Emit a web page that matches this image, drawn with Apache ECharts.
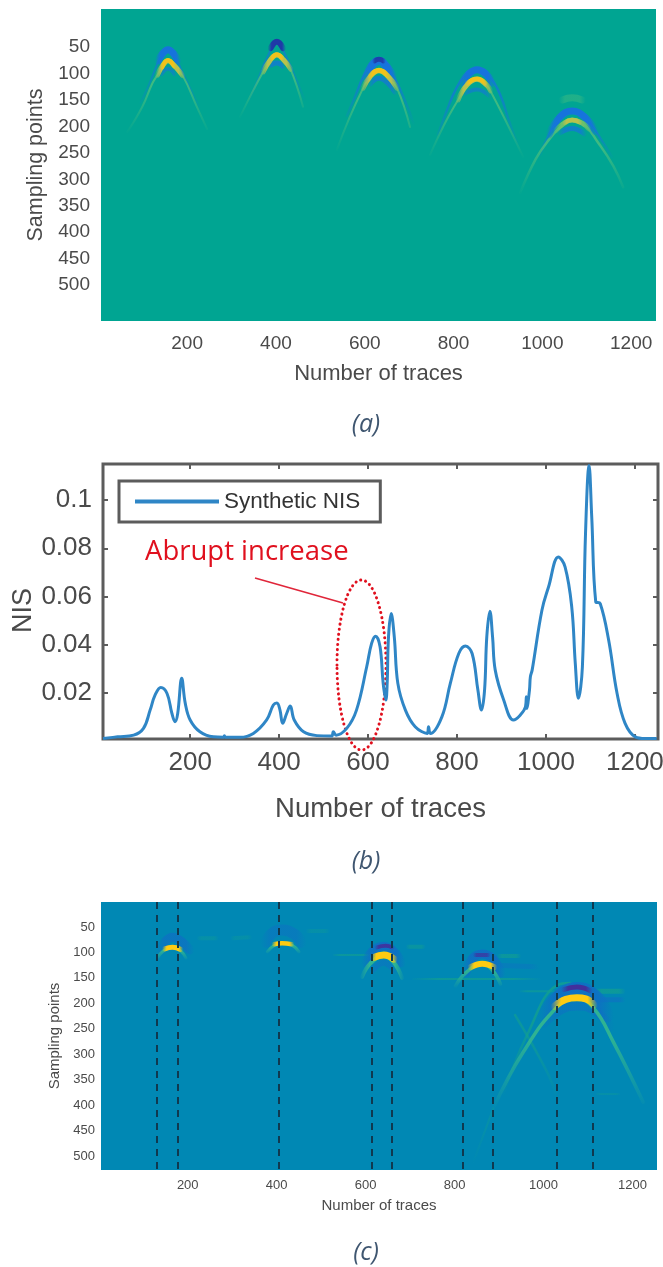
<!DOCTYPE html>
<html><head><meta charset="utf-8">
<style>html,body{margin:0;padding:0;background:#fff}#c{width:663px;height:1267px;filter:blur(0.5px)}</style>
<script src="https://cdn.jsdelivr.net/npm/echarts@6/dist/echarts.min.js"></script>
</head><body><div id="c"></div>
<script>
const traceTicks=[200,400,600,800,1000,1200];
const sampleTicks=[50,100,150,200,250,300,350,400,450,500];
const nisTicks=[0.02,0.04,0.06,0.08,0.1];
const xName='Number of traces', yNameSample='Sampling points', yNameNis='NIS', nisName='Synthetic NIS';
const captions=['(a)','(b)','(c)'];
const noteText='Abrupt increase';

const nisCurve=[[4,.001],[37,.0017],[73,.0024],[95,.0052],[110,.0128],[121,.019],[134,.0222],[148,.0197],[159,.0114],[166,.008],[172,.0114],[181,.026],[189,.0156],[200,.0087],[222,.0038],[252,.0017],[275,.0015],[277,.0022],[279,.0015],[312,.0015],[342,.0031],[372,.0087],[387,.0149],[395,.0158],[402,.0128],[408,.0073],[417,.0114],[425,.0145],[434,.0087],[455,.0038],[485,.0022],[518,.002],[522,.0038],[528,.0024],[552,.0052],[574,.0128],[597,.0308],[608,.0405],[617,.0435],[627,.0391],[634,.0239],[640,.017],[643,.0239],[646,.0432],[652,.0529],[659,.0432],[667,.0239],[684,.0128],[706,.0059],[733,.0031],[736,.0059],[740,.0031],[766,.01],[785,.0239],[804,.0363],[819,.0394],[834,.0363],[847,.0211],[855,.0128],[862,.0211],[867,.0432],[874,.0539],[880,.0432],[886,.0294],[905,.017],[927,.0087],[942,.0107],[954,.0142],[956,.0183],[957,.0135],[963,.0211],[965,.0266],[969,.0294],[991,.0543],[1006,.064],[1028,.0764],[1043,.0723],[1058,.0557],[1066,.0322],[1073,.0177],[1082,.0308],[1089,.0861],[1097,.1144],[1103,.093],[1112,.0578],[1122,.0571],[1141,.0419],[1160,.0197],[1178,.0073],[1201,.0017],[1223,.001],[1249,.001]];

const picks=[130,178,405,613,658,818,886,1030,1110];

const a1Tail=[[95,155],[112,125],[128,92],[140,68],[157,54],[174,68],[186,92],[205,125],[228,165]];
const a1Cap=[[135,76],[145,62],[157,55],[169,62],[179,76]];
const a1Green=[[65,211],[99,163],[122,118],[133,103],[145,84],[157,76],[169,84],[190,104],[222,163],[245,205]];
const a1Core=[[133,103],[145,85],[157,76],[170,84],[190,104]];
const a1Yellow=[[143,88],[157,75],[171,86]];
const a1Under=[[142,101],[157,91],[172,101]];
const a2Tail=[[340,150],[360,110],[380,70],[402,42],[424,70],[445,110],[465,150]];
const a2Cap=[[388,52],[402,40],[416,52]];
const a2Green=[[319,182],[350,130],[371,97],[388,74],[402,65],[416,72],[432,90],[461,163]];
const a2Core=[[371,97],[386,76],[402,65],[417,74],[434,92]];
const a2Yellow=[[390,71],[402,64],[414,70]];
const a2Under=[[388,84],[402,80],[416,86]];
const a3Tail=[[560,180],[580,140],[600,100],[615,84],[632,76],[650,86],[668,110],[690,150],[710,195]];
const a3Cap=[[602,108],[615,86],[632,76],[650,88],[665,108]];
const a3Navy=[[622,76],[632,73],[642,76]];
const a3Green=[[537,245],[565,185],[596,128],[612,105],[632,95],[652,105],[673,128],[702,201]];
const a3Core=[[596,128],[612,106],[632,95],[652,105],[673,128]];
const a3Yellow=[[612,104],[632,94],[652,104]];
const a3Under=[[612,120],[632,109],[652,118],[668,135]];
const a4Tail=[[765,215],[785,170],[805,130],[825,105],[853,92],[880,105],[905,140],[925,190],[945,235]];
const a4Cap=[[818,118],[835,100],[853,93],[872,100],[888,118]];
const a4Green=[[747,254],[780,195],[810,150],[830,122],[853,111],[875,122],[882,131],[915,185],[957,258]];
const a4Core=[[810,150],[830,122],[853,111],[875,122],[884,133]];
const a4Yellow=[[830,119],[853,110],[872,118]];
const a4Under=[[825,138],[853,130],[880,142]];
const a5Halo=[[1045,150],[1067,146],[1090,150]];
const a5Tail=[[995,254],[1015,215],[1040,180],[1067,170],[1095,180],[1125,215],[1157,258]];
const a5Cap=[[1015,215],[1040,182],[1067,171],[1095,182],[1120,210]];
const a5Green=[[950,326],[985,262],[1015,225],[1044,198],[1067,188],[1092,194],[1125,230],[1160,275],[1182,315]];
const a5Core=[[1030,208],[1044,197],[1067,188],[1092,195],[1105,205]];
const a5Yellow=[[1050,193],[1067,188],[1085,192]];
const a5Under=[[1040,212],[1067,204],[1095,214]];

const c1Cap=[[138,95],[150,78],[166,70],[185,78],[205,95]];
const c1Green=[[132,111],[145,97],[166,90],[185,98],[196,111]];
const c1Yellow=[[148,93],[166,90],[184,94]];
const c1Streak=[[225,72],[265,72]];
const c2Cap=[[375,80],[390,62],[412,56],[440,64],[455,80]];
const c2Green=[[379,99],[395,86],[412,82],[435,86],[450,99]];
const c2Yellow=[[394,84],[412,82],[434,84]];
const c2StreakL=[[300,72],[340,70]];
const c2StreakR=[[470,58],[515,58]];
const c3Cap=[[600,120],[615,98],[640,88],[665,100],[680,120]];
const c3Purple=[[625,90],[645,87],[660,90]];
const c3Green=[[592,148],[611,121],[640,107],[662,118],[682,150]];
const c3Yellow=[[618,110],[641,105],[664,113]];
const c3Under=[[615,135],[640,120],[665,135]];
const c3StreakL=[[528,105],[611,105]];
const c3StreakR=[[695,89],[730,89]];
const c3StreakLong=[[705,152],[992,152]];
const c4Cap=[[825,140],[840,112],[862,103],[885,112],[905,140]];
const c4Purple=[[846,105],[876,105]];
const c4Green=[[802,166],[825,140],[862,122],[885,135],[903,162]];
const c4Yellow=[[836,129],[862,122],[889,129]];
const c4StreakG=[[900,107],[945,107]];
const c4StreakB=[[890,125],[985,128]];
const c5Cap=[[1000,225],[1030,188],[1075,170],[1120,188],[1145,225]];
const c5Under=[[1000,240],[1040,212],[1075,205],[1110,212],[1150,245]];
const c5Purple=[[1045,173],[1075,168],[1105,175]];
const c5Green=[[887,406],[954,296],[1033,205],[1075,191],[1112,209],[1157,276],[1224,394]];
const c5Yellow=[[1024,206],[1050,192],[1075,189],[1095,191],[1114,203]];
const c5Upper=[[909,380],[963,262],[1031,164],[1060,160]];
const c5Cross=[[936,223],[1008,335],[1030,385]];
const c5StreakL=[[948,176],[1031,176]];
const c5StreakR=[[1120,176],[1179,176]];
const c5StreakB=[[1120,193],[1179,193]];
const c5StreakLow=[[1120,378],[1170,378]];
const c5Foot=[[887,406],[842,512]];

const BLUE='#1673dc',NAVY='#1f3aa8',GREEN='#4fc07c',YEL='#f2c21a',OLIVE='#b9c24c';
const CB='#0f6fc4',CP='#43309c',CG='#2fb392',CY='#ffcb12',CL='#12a08f';
const arcsA=[
 [a1Tail,BLUE,2,.6],[a1Green,GREEN,2,.8],[a1Cap,BLUE,7,1],[a1Under,BLUE,4,.55],[a1Core,OLIVE,5,1],[a1Yellow,YEL,4.5,1],
 [a2Tail,BLUE,2,.6],[a2Green,GREEN,2,.8],[a2Cap,NAVY,6,1],[a2Under,BLUE,5,.7],[a2Core,OLIVE,5,1],[a2Yellow,YEL,4.5,1],
 [a3Tail,BLUE,2.5,.7],[a3Green,GREEN,2,.8],[a3Cap,BLUE,8,1],[a3Navy,NAVY,5,.9],[a3Under,BLUE,5,.7],[a3Core,OLIVE,5,1],[a3Yellow,YEL,5,1],
 [a4Tail,BLUE,2.5,.7],[a4Green,GREEN,2,.8],[a4Cap,BLUE,7,1],[a4Under,BLUE,4,.6],[a4Core,OLIVE,5,1],[a4Yellow,YEL,4.5,1],
 [a5Halo,GREEN,7,.4],[a5Tail,BLUE,2.5,.8],[a5Green,GREEN,2.5,.8],[a5Cap,BLUE,7,1],[a5Under,BLUE,5,.7],[a5Core,'#6fc06a',5,1],[a5Yellow,OLIVE,4.5,1]
];
const arcsC=[
 [c1Streak,CL,4,.35],[c1Cap,CB,9,.7],[c1Green,CG,3,1],[c1Yellow,CY,5,1],
 [c2StreakL,CL,4,.3],[c2StreakR,CL,4,.3],[c2Cap,CB,11,.5],[c2Green,CG,3,1],[c2Yellow,CY,4.5,1],
 [c3StreakL,CL,2,.6],[c3StreakR,CL,4,.5],[c3StreakLong,CL,2,.7],[c3Under,CB,6,.5],[c3Cap,CB,9,.9],[c3Purple,CP,4,.9],[c3Green,CG,4,1],[c3Yellow,CY,7,1],
 [c4StreakG,CL,4,.6],[c4StreakB,CB,5,.4],[c4Cap,CB,9,.9],[c4Purple,CP,4,.7],[c4Green,CG,3.5,1],[c4Yellow,CY,6,1],
 [c5StreakL,CL,2,.6],[c5StreakR,CL,5,.7],[c5StreakB,CB,5,.6],[c5StreakLow,CL,2,.3],[c5Foot,CL,2,.3],[c5Upper,CL,2.5,.8],[c5Cross,CL,2.5,.6],[c5Under,CB,9,.55],[c5Cap,CB,12,.9],[c5Purple,CP,5,1],[c5Green,CG,3.5,1],[c5Yellow,CY,7,1]
];

const FONT='"Liberation Sans",Arial,sans-serif';
const TXT='#4a4a4a';
const panels=[
 {left:101,top:9,width:555,height:312,bg:'#00a592',x:[6,1256],y:[-22,568]},
 {left:103,top:464,width:555,height:275,x:[4,1252],y:[.0008,.115]},
 {left:101,top:902,width:556,height:268,bg:'#0088b4',x:[5,1255],y:[1,527]}
];
const grid=panels.map(p=>({left:p.left,top:p.top,width:p.width,height:p.height,show:true,outerBoundsMode:'none',
  backgroundColor:p.bg||'#fff',borderWidth:p.bg?0:3,borderColor:'#5c5c5c',containLabel:false}));

const sideX=(i,fs,gap,nf,ng)=>({type:'value',gridIndex:i,min:panels[i].x[0],max:panels[i].x[1],
  name:xName,nameLocation:'middle',nameGap:ng,nameTextStyle:{fontFamily:FONT,fontSize:nf,color:TXT},
  axisLine:{show:false},splitLine:{show:false},
  axisTick:{show:i===1,inside:true,length:5,customValues:traceTicks,lineStyle:{color:'#5c5c5c',width:2}},
  axisLabel:{fontFamily:FONT,fontSize:fs,color:TXT,margin:gap,customValues:traceTicks,formatter:v=>String(v)}});
const sideY=(i,vals,fs,gap,name,nf,ng,pad)=>({type:'value',gridIndex:i,min:panels[i].y[0],max:panels[i].y[1],inverse:i!==1,
  name,nameLocation:'middle',nameGap:ng,nameMoveOverlap:!pad,nameTextStyle:{fontFamily:FONT,fontSize:nf,color:TXT,padding:pad||0},
  axisLine:{show:false},splitLine:{show:false},
  axisTick:{show:i===1,inside:true,length:5,customValues:vals,lineStyle:{color:'#5c5c5c',width:2}},
  axisLabel:{fontFamily:FONT,fontSize:fs,color:TXT,margin:gap,customValues:vals,formatter:v=>String(v)}});

const xAxis=[sideX(0,19,13,22,42),sideX(1,26,11,27.5,56),sideX(2,13,9,15,28),
 {type:'value',gridIndex:1,position:'top',min:panels[1].x[0],max:panels[1].x[1],axisLine:{show:false},splitLine:{show:false},axisLabel:{show:false},
  axisTick:{show:true,inside:true,length:5,customValues:traceTicks,lineStyle:{color:'#5c5c5c',width:2}}}];
const yAxis=[sideY(0,sampleTicks,19,11,yNameSample,21.5,52),
 sideY(1,nisTicks,26,11,yNameNis,27,66,[0,18,0,0]),
 sideY(2,sampleTicks,13,6,yNameSample,15,32),
 {type:'value',gridIndex:1,position:'right',min:panels[1].y[0],max:panels[1].y[1],axisLine:{show:false},splitLine:{show:false},axisLabel:{show:false},
  axisTick:{show:true,inside:true,length:5,customValues:nisTicks,lineStyle:{color:'#5c5c5c',width:2}}}];

const fadeColor=(a)=>{
  const c=a[1], clear=echarts.color.modifyAlpha(c,0);
  const ys=a[0].map(p=>p[1]), flat=Math.max(...ys)-Math.min(...ys)<10;
  if(a[2]>=4||flat) return {type:'linear',x:0,y:0,x2:1,y2:0,colorStops:[{offset:0,color:clear},{offset:.22,color:c},{offset:.78,color:c},{offset:1,color:clear}]};
  return {type:'linear',x:0,y:0,x2:0,y2:1,colorStops:[{offset:0,color:c},{offset:.35,color:c},{offset:1,color:clear}]};
};
const arcSeries=(list,idx,tag)=>list.map((a,n)=>({type:'line',name:tag+n,xAxisIndex:idx,yAxisIndex:idx,data:a[0],smooth:.45,symbol:'none',silent:true,
  lineStyle:{color:fadeColor(a),width:a[2],opacity:a[3],cap:'round'}}));

const series=[
 ...arcSeries(arcsA,0,'a'),
 ...arcSeries(arcsC,2,'c'),
 {type:'line',name:nisName,xAxisIndex:1,yAxisIndex:1,data:nisCurve,smooth:.4,symbol:'none',itemStyle:{color:'#2f86c6'},lineStyle:{color:'#2f86c6',width:3}},
 {type:'line',name:'picks',xAxisIndex:2,yAxisIndex:2,data:[],symbol:'none',
  markLine:{silent:true,symbol:'none',label:{show:false},lineStyle:{color:'#10394f',type:[7,6],width:2,opacity:1},
   data:picks.map(v=>({xAxis:v}))}}
];

const cap=(t,y)=>({type:'text',x:366,y,style:{text:t,font:'italic 25px "Open Sans",sans-serif',fill:'#3f5670',align:'center',verticalAlign:'middle'}});
const graphic=[cap(captions[0],425),cap(captions[1],862),cap(captions[2],1253),
 {type:'text',x:145,y:552,style:{text:noteText,font:'27.5px "Open Sans",sans-serif',fill:'#e0101e',align:'left',verticalAlign:'middle'}},
 {type:'line',shape:{x1:255,y1:578,x2:343,y2:603},style:{stroke:'#e0263a',lineWidth:1.6}},
 {type:'ellipse',shape:{cx:361.5,cy:665,rx:24.5,ry:85},style:{fill:'none',stroke:'#e0101e',lineWidth:3,lineDash:[0.1,5],lineCap:'round'}}
];

const chart=echarts.init(document.getElementById('c'),null,{renderer:'canvas'});
chart.setOption({animation:false,backgroundColor:'#fff',grid,xAxis,yAxis,series,graphic,
 legend:{data:[nisName],left:119,top:481,orient:'horizontal',padding:[9,20,9,16],itemWidth:84,itemHeight:4,itemGap:6,
  borderColor:'#5c5c5c',borderWidth:3,backgroundColor:'#fff',icon:'rect',selectedMode:false,
  textStyle:{fontFamily:FONT,fontSize:22.5,color:'#333'}}});
</script></body></html>
